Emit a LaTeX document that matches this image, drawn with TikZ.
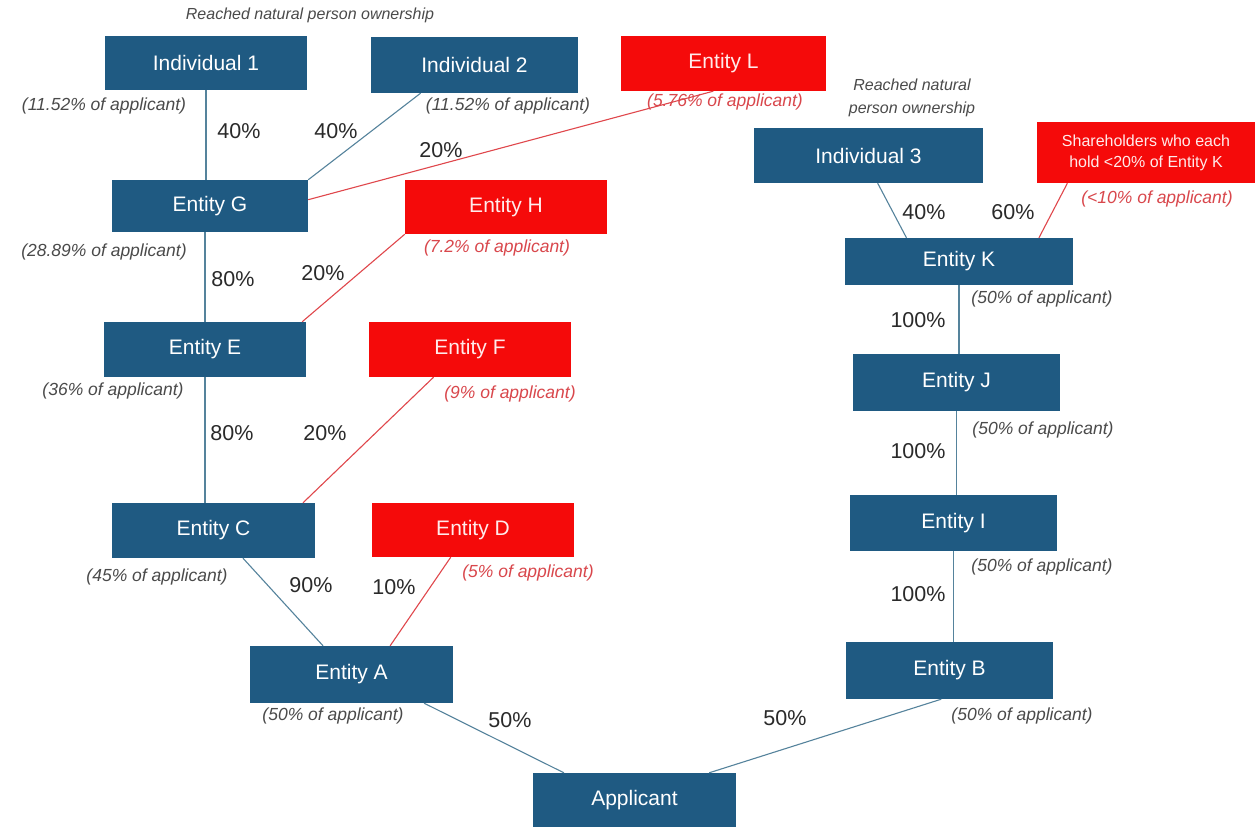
\documentclass[tikz,border=0pt]{standalone}
\usepackage{fontspec}
\setmainfont{Liberation Sans}
\usetikzlibrary{calc}
\definecolor{boxblue}{HTML}{1F5A82}
\definecolor{boxred}{HTML}{F50A0A}
\definecolor{lineblue}{HTML}{55839C}
\definecolor{linered}{HTML}{E0474C}
\definecolor{labgray}{HTML}{2A2A2A}
\definecolor{notegray}{HTML}{4A4A4A}
\definecolor{notered}{HTML}{D9474C}
\tikzset{
  bbox/.style={fill=boxblue, text=white, inner sep=0pt, font=\fontsize{21}{24}\selectfont},
  rbox/.style={fill=boxred, text=white!92!red, inner sep=0pt, font=\fontsize{21}{24}\selectfont},
  pct/.style={text=labgray, inner sep=0pt, font=\fontsize{21.5}{24}\selectfont},
  note/.style={text=notegray, inner sep=0pt, font=\itshape\fontsize{17.5}{20}\selectfont},
  rnote/.style={text=notered, inner sep=0pt, font=\itshape\fontsize{17.5}{20}\selectfont},
  hdr/.style={text=notegray, inner sep=0pt, align=center, font=\itshape\fontsize{16}{23}\selectfont},
  bl/.style={draw=lineblue, line width=1.1pt},
  rl/.style={draw=linered, line width=1.1pt}
}
\begin{document}
\begin{tikzpicture}[x=1pt,y=-1pt]
\useasboundingbox (0,0) rectangle (1255,827);
\fill[white] (0,0) rectangle (1255,827);
% boxes
\node[bbox, minimum width=202pt, minimum height=54pt] (ind1) at (206,63) {Individual 1};
\node[bbox, minimum width=207pt, minimum height=56pt] (ind2) at (474.5,65) {Individual 2};
\node[rbox, minimum width=205pt, minimum height=55pt] (entL) at (723.5,63.5) {Entity L};
\node[bbox, minimum width=229pt, minimum height=55pt] (ind3) at (868.5,155.5) {Individual 3};
\node[rbox, minimum width=218pt, minimum height=61pt, align=center, font=\fontsize{16}{21}\selectfont] (share) at (1146,152.5) {Shareholders who each\\hold <20\% of Entity K};
\node[bbox, minimum width=196pt, minimum height=52pt] (entG) at (210,206) {Entity G};
\node[rbox, minimum width=202pt, minimum height=54pt] (entH) at (506,207) {Entity H};
\node[bbox, minimum width=228pt, minimum height=47pt] (entK) at (959,261.5) {Entity K};
\node[bbox, minimum width=202pt, minimum height=55pt] (entE) at (205,349.5) {Entity E};
\node[rbox, minimum width=202pt, minimum height=55pt] (entF) at (470,349.5) {Entity F};
\node[bbox, minimum width=207pt, minimum height=57pt] (entJ) at (956.5,382.5) {Entity J};
\node[bbox, minimum width=203pt, minimum height=55pt] (entC) at (213.5,530.5) {Entity C};
\node[rbox, minimum width=202pt, minimum height=54pt] (entD) at (473,530) {Entity D};
\node[bbox, minimum width=207pt, minimum height=56pt] (entI) at (953.5,523) {Entity I};
\node[bbox, minimum width=203pt, minimum height=57pt] (entA) at (351.5,674.5) {Entity A};
\node[bbox, minimum width=207pt, minimum height=57pt] (entB) at (949.5,670.5) {Entity B};
\node[bbox, minimum width=203pt, minimum height=54pt] (app) at (634.5,800) {Applicant};
% connectors
\draw[bl] (ind1.south) -- (ind1.south |- entG.north);
\draw[bl] ($(ind2.south west)!0.24!(ind2.south east)$) -- (entG.north east);
\draw[rl] ($(entG.north east)!0.38!(entG.south east)$) -- ($(entL.south west)!0.45!(entL.south east)$);
\draw[bl] (entE.north) -- (entE.north |- entG.south);
\draw[rl] (entH.south west) -- ($(entE.north west)!0.98!(entE.north east)$);
\draw[bl] (entE.south) -- (entE.south |- entC.north);
\draw[rl] ($(entF.south west)!0.32!(entF.south east)$) -- ($(entC.north west)!0.94!(entC.north east)$);
\draw[bl] ($(entC.south west)!0.645!(entC.south east)$) -- ($(entA.north west)!0.36!(entA.north east)$);
\draw[rl] ($(entD.south west)!0.39!(entD.south east)$) -- ($(entA.north west)!0.69!(entA.north east)$);
\draw[bl] ($(entA.south west)!0.857!(entA.south east)$) -- ($(app.north west)!0.153!(app.north east)$);
\draw[bl] ($(entB.south west)!0.46!(entB.south east)$) -- ($(app.north west)!0.867!(app.north east)$);
\draw[bl] ($(ind3.south west)!0.54!(ind3.south east)$) -- ($(entK.north west)!0.27!(entK.north east)$);
\draw[rl] ($(share.south west)!0.14!(share.south east)$) -- ($(entK.north west)!0.85!(entK.north east)$);
\draw[bl] (entJ.north -| entK.south) -- (entK.south);
\draw[bl] (entJ.south) -- (entJ.south |- entI.north);
\draw[bl] (entI.south) -- (entI.south |- entB.north);
% labels
\node[hdr] (h1) at (310,15) {Reached natural person ownership};
\node[hdr] (h2) at (912,98) {Reached natural\\person ownership};
\node[note] (n1) at (104,106) {(11.52\% of applicant)};
\node[note] (n2) at (508,106) {(11.52\% of applicant)};
\node[rnote] (n3) at (725,102) {(5.76\% of applicant)};
\node[rnote] (n4) at (1157,199) {(<10\% of applicant)};
\node[note] (n5) at (104,252) {(28.89\% of applicant)};
\node[rnote] (n6) at (497,248) {(7.2\% of applicant)};
\node[note] (n7) at (1042,299) {(50\% of applicant)};
\node[note] (n8) at (113,391) {(36\% of applicant)};
\node[rnote] (n9) at (510,394) {(9\% of applicant)};
\node[note] (n10) at (1043,430) {(50\% of applicant)};
\node[note] (n11) at (157,577) {(45\% of applicant)};
\node[rnote] (n12) at (528,573) {(5\% of applicant)};
\node[note] (n13) at (1042,567) {(50\% of applicant)};
\node[note] (n14) at (333,716) {(50\% of applicant)};
\node[note] (n15) at (1022,716) {(50\% of applicant)};
\node[pct] (p1) at (239,131) {40\%};
\node[pct] (p2) at (336,131) {40\%};
\node[pct] (p3) at (441,150) {20\%};
\node[pct] (p4) at (924,212) {40\%};
\node[pct] (p5) at (1013,212) {60\%};
\node[pct] (p6) at (233,279) {80\%};
\node[pct] (p7) at (323,273) {20\%};
\node[pct] (p8) at (918,320) {100\%};
\node[pct] (p9) at (232,433) {80\%};
\node[pct] (p10) at (325,433) {20\%};
\node[pct] (p11) at (918,451) {100\%};
\node[pct] (p12) at (311,585) {90\%};
\node[pct] (p13) at (394,587) {10\%};
\node[pct] (p14) at (918,594) {100\%};
\node[pct] (p15) at (510,720) {50\%};
\node[pct] (p16) at (785,718) {50\%};
\end{tikzpicture}
\end{document}
